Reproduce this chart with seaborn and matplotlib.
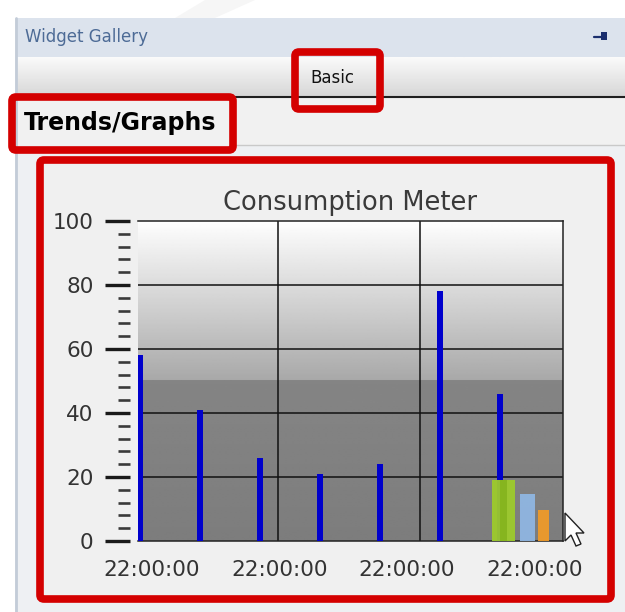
import numpy as np
import pandas as pd
import seaborn as sns
import matplotlib.pyplot as plt
from matplotlib.patches import Rectangle, FancyBboxPatch, Polygon

# ---------------- data ----------------
sample_pos = [0, 1, 2, 3, 4, 5, 6]
consumption = [58, 41, 26, 21, 24, 78, 46]
summary_pos = [6.06, 6.46, 6.73]
summary_width = [0.38, 0.25, 0.18]
summary_vals = [19, 14.7, 9.7]
summary_colors = ["#9dcb2c", "#8fb6e2", "#ee9a2a"]
xtick_pos = [0.2, 2.33, 4.45, 6.58]
xtick_labels = ["22:00:00", "22:00:00", "22:00:00", "22:00:00"]
vgrid_pos = [2.3, 4.67]
yticks = [0, 20, 40, 60, 80, 100]
title = "Consumption Meter"

sns.set_theme(style="white")
plt.rcParams["font.family"] = ["DejaVu Sans"]

W, H = 625, 612
fig = plt.figure(figsize=(W / 100, H / 100), dpi=100)
fig.patch.set_facecolor("white")

# ---------------- UI chrome (pixel coordinates) ----------------
ov = fig.add_axes([0, 0, 1, 1], zorder=0)
ov.set_xlim(0, W)
ov.set_ylim(H, 0)
ov.axis("off")

# faint watermark strokes
ov.add_patch(Polygon([(205, 0), (255, 0), (215, 18), (175, 18)], closed=True,
                     facecolor="#f6f6f6", edgecolor="none"))
# panel
ov.add_patch(Rectangle((15, 18), W - 15, H - 18, facecolor="#eef0f3", edgecolor="none"))
ov.plot([15.5, 15.5], [18, H], color="#c3ccd8", lw=2)
# header
ov.add_patch(Rectangle((17, 18), W - 17, 39, facecolor="#dce3ed", edgecolor="none"))
ov.text(25, 37, "Widget Gallery", fontsize=12, color="#4d6b96", va="center", ha="left")
ov.plot([594, 602], [37, 37], color="#1b2f6e", lw=1.6)
ov.add_patch(Rectangle((601, 32), 6, 8, facecolor="#1b2f6e", edgecolor="none"))
# tab bar gradient
grad = np.linspace(0.98, 0.84, 64).reshape(-1, 1)
ov.imshow(grad, cmap="gray", vmin=0, vmax=1, extent=(17, W, 97, 57), aspect="auto", zorder=1)
ov.plot([17, W], [97, 97], color="#202020", lw=1.5, zorder=2)
ov.text(332, 78, "Basic", fontsize=12, color="#111111", ha="center", va="center",
        family=["Liberation Sans Narrow", "DejaVu Sans"], zorder=3)
# trends row
ov.add_patch(Rectangle((17, 98), W - 17, 47, facecolor="#f1f1f1", edgecolor="none", zorder=1))
ov.plot([230, W], [145, 145], color="#c9c9c9", lw=1, zorder=2)
ov.text(24, 123, "Trends/Graphs", fontsize=17, fontweight="bold", color="#000000",
        ha="left", va="center", family=["Liberation Sans Narrow", "DejaVu Sans"], zorder=3)
# red highlight boxes
red = "#d40000"
ov.add_patch(FancyBboxPatch((295, 52), 85, 57, boxstyle="round,pad=0,rounding_size=4",
                            facecolor="none", edgecolor=red, lw=5.5, zorder=4))
ov.add_patch(FancyBboxPatch((12, 97), 221, 53, boxstyle="round,pad=0,rounding_size=4",
                            facecolor="none", edgecolor=red, lw=5.5, zorder=4))
ov.add_patch(FancyBboxPatch((40, 160), 571, 439, boxstyle="round,pad=0,rounding_size=4",
                            facecolor="#f0f0f0", edgecolor=red, lw=5.5, zorder=4))

# ---------------- chart ----------------
ax = fig.add_axes([138 / W, 1 - 541 / H, 425 / W, 320 / H], zorder=2)
xmin, xmax = -0.033, 7.05

# background: gradient band above 50, flat darker gray below
upper = np.linspace(0.995, 0.66, 128).reshape(-1, 1)
lower = np.linspace(0.52, 0.49, 64).reshape(-1, 1)
ax.imshow(upper, cmap="gray", vmin=0, vmax=1, extent=(xmin, xmax, 50, 100),
          aspect="auto", zorder=0, interpolation="bilinear")
ax.imshow(lower, cmap="gray", vmin=0, vmax=1, extent=(xmin, xmax, 0, 50),
          aspect="auto", zorder=0, interpolation="bilinear")

for g in [20, 40, 60, 80]:
    ax.axhline(g, color="#111111", lw=1.1, zorder=1)
for v in vgrid_pos:
    ax.axvline(v, color="#111111", lw=1.1, zorder=1)

sns.barplot(x=sample_pos, y=consumption, native_scale=True, width=0.1,
            color="#0000cc", saturation=1, ax=ax, zorder=3,
            edgecolor="#0000cc", linewidth=0)
bars = ax.bar(summary_pos, summary_vals, width=summary_width, color=summary_colors,
              edgecolor="none", alpha=0.95, zorder=4)
# darker centre stripe on the green summary bar (glossy look)
ax.bar(summary_pos[0], summary_vals[0], width=summary_width[0] * 0.3,
       color="#86b51f", edgecolor="none", zorder=5)

ax.set_xlim(xmin, xmax)
ax.set_ylim(0, 100)
ax.set_xlabel("")
ax.set_ylabel("")
ax.set_xticks(xtick_pos)
ax.set_xticklabels(xtick_labels)
ax.set_yticks(yticks)
ax.set_yticklabels([str(t) for t in yticks])
ax.set_yticks(np.arange(0, 101, 4), minor=True)
ax.tick_params(axis="x", length=0, pad=14, labelsize=15.5, labelcolor="#333333")
ax.tick_params(axis="y", which="major", length=18, width=2.4, color="#1a1a1a",
               direction="out", pad=8, left=True, labelsize=15.5, labelcolor="#333333")
ax.tick_params(axis="y", which="minor", length=8.5, width=1.9, color="#3a3a3a",
               direction="out", left=True, labelleft=False)
ax.spines["left"].set_position(("outward", 6))
ax.spines["left"].set_visible(False)
for s in ["top", "right", "bottom"]:
    ax.spines[s].set_visible(True)
    ax.spines[s].set_color("#222222")
    ax.spines[s].set_linewidth(1.1)
ax.set_title(title, fontsize=18.5, color="#3a3a3a", pad=8)

# mouse cursor
cur = Polygon([(565, 513), (565, 541), (571, 535), (576, 546), (581, 544),
               (576, 533), (584, 533)], closed=True, facecolor="white",
              edgecolor="#222222", lw=1, zorder=6)
ov2 = fig.add_axes([0, 0, 1, 1], zorder=3)
ov2.set_xlim(0, W)
ov2.set_ylim(H, 0)
ov2.axis("off")
ov2.patch.set_alpha(0)
ov2.add_patch(cur)

fig.savefig("out.png", dpi=100)
